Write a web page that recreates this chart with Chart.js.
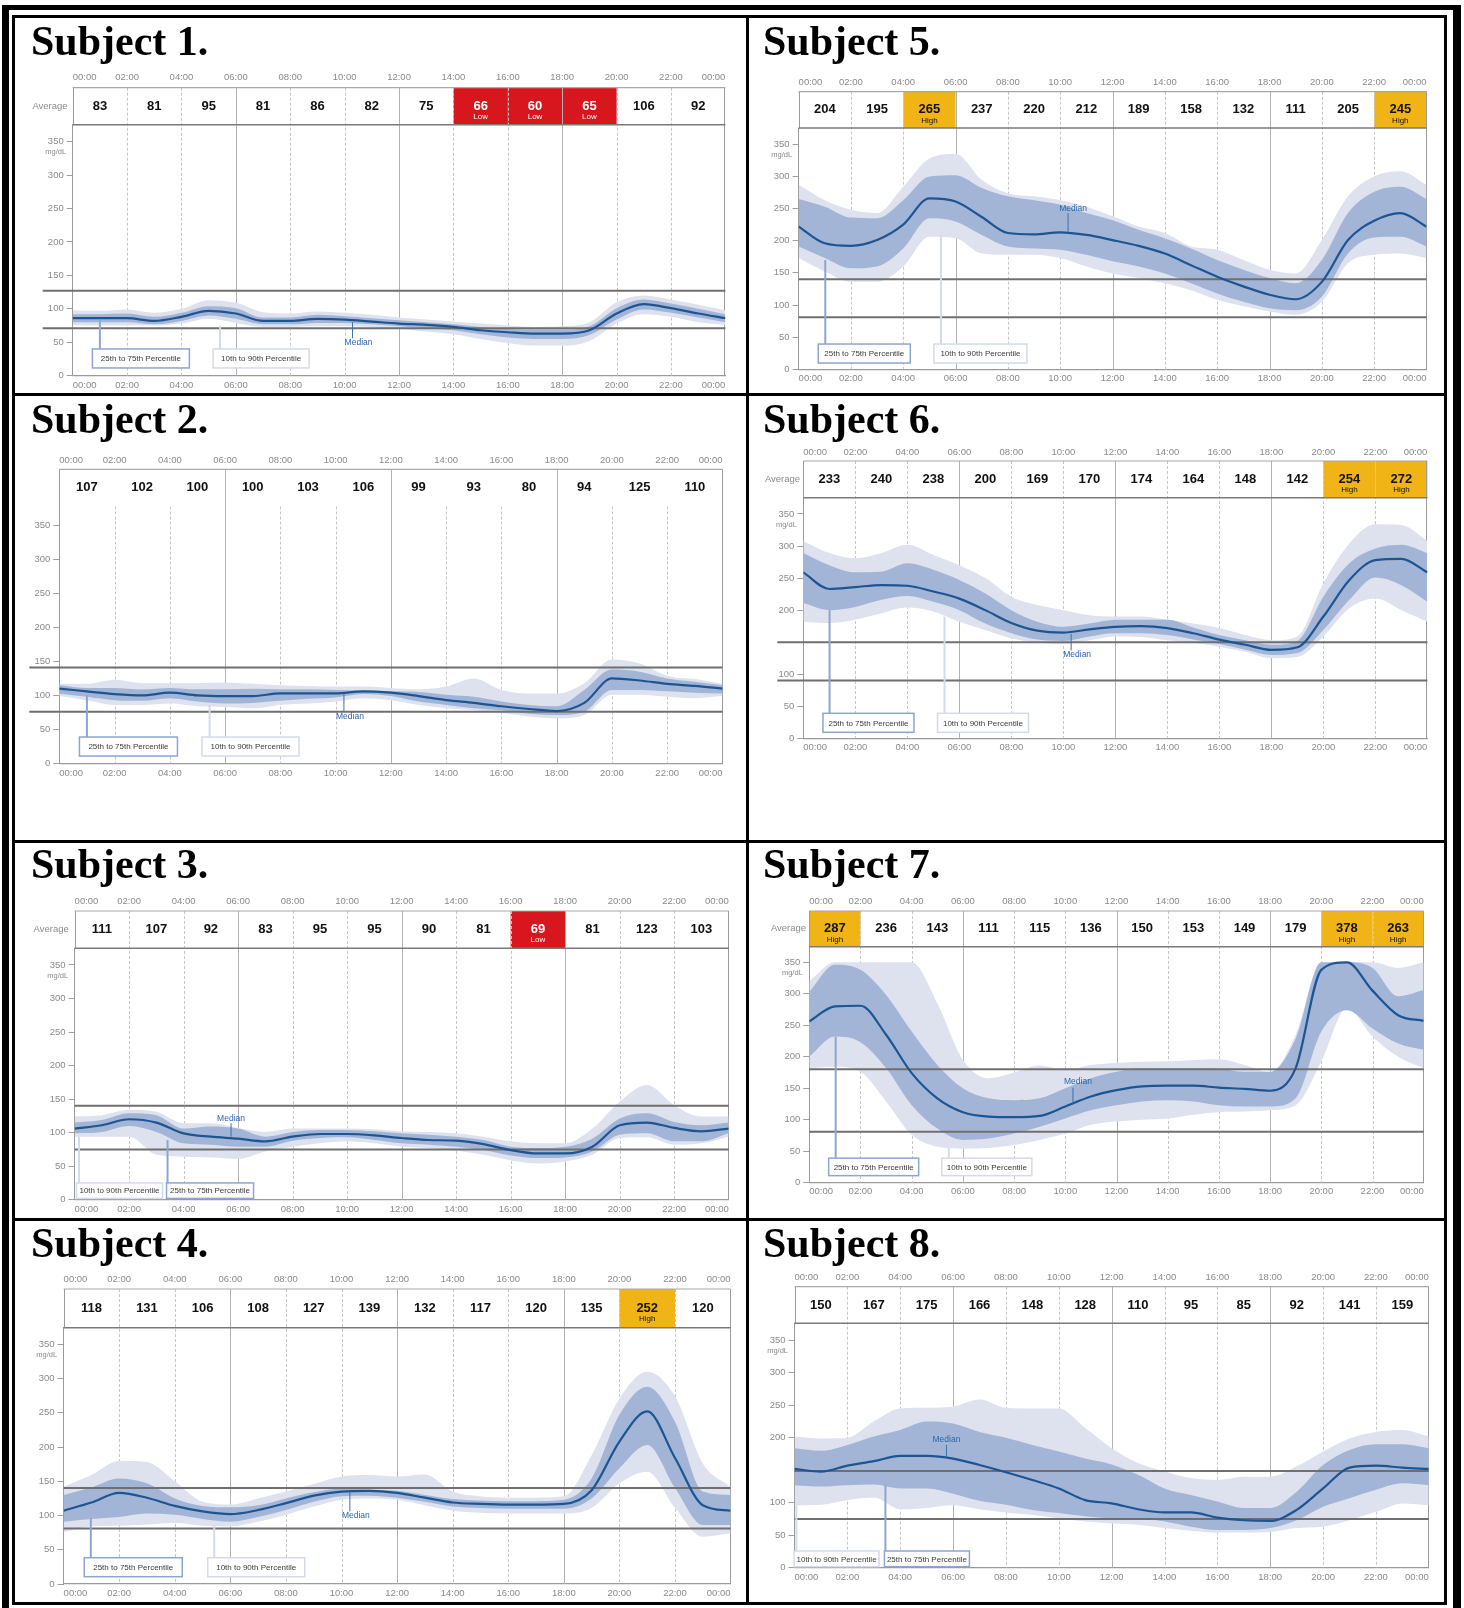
<!DOCTYPE html>
<html>
<head>
<meta charset="utf-8">
<script src="https://cdn.jsdelivr.net/npm/chart.js@4.4.1/dist/chart.umd.min.js"></script>
<style>
  html, body { margin: 0; padding: 0; background: #fff; }
  body { width: 1464px; height: 1608px; position: relative; overflow: hidden; }
  canvas { position: absolute; }
  .blk { position: absolute; background: #000; }
</style>
</head>
<body>
<div id="panels"></div>
<!-- page frame and cell dividers -->
<div class="blk" style="left:2px;top:5px;width:7px;height:1603px"></div>
<div class="blk" style="left:1453px;top:5px;width:8px;height:1603px"></div>
<div class="blk" style="left:2px;top:5px;width:1459px;height:5px"></div>
<div class="blk" style="left:12px;top:15px;width:3px;height:1590px"></div>
<div class="blk" style="left:1444px;top:15px;width:3px;height:1590px"></div>
<div class="blk" style="left:12px;top:15px;width:1435px;height:3px"></div>
<div class="blk" style="left:12px;top:1602px;width:1435px;height:3px"></div>
<div class="blk" style="left:746px;top:15px;width:3px;height:1590px"></div>
<div class="blk" style="left:12px;top:393px;width:1435px;height:3px"></div>
<div class="blk" style="left:12px;top:840px;width:1435px;height:3px"></div>
<div class="blk" style="left:12px;top:1218px;width:1435px;height:3px"></div>

<script>
// ---- shared axes ----
const HOURS = [0,1,2,3,4,5,6,7,8,9,10,11,12,13,14,15,16,17,18,19,20,21,22,23,24];
const TIME_LABELS = ['00:00','02:00','04:00','06:00','08:00','10:00','12:00','14:00','16:00','18:00','20:00','22:00','00:00'];
const YTICKS = [0,50,100,150,200,250,300,350];
const YTICKS_NO150 = [0,50,100,200,250,300,350];

// ---- Subject 1 ----
const s1Avg   = [83,81,95,81,86,82,75,66,60,65,106,92];
const s1Flags = ['','','','','','','','Low','Low','Low','',''];
const s1Ref   = [127,71];
const s1P10 = [76,75,75,75,78,85,79,73,73,74,74,73,70,66,62,55,49,45,45,52,78,92,88,80,76];
const s1P25 = [80,80,80,77,82,90,85,77,77,79,79,77,74,71,68,62,57,55,55,61,84,99,94,87,80];
const s1P50 = [86,86,86,82,88,97,93,82,82,85,84,81,78,76,73,68,65,63,63,68,93,107,101,93,86];
const s1P75 = [92,92,93,88,94,104,101,87,87,91,89,86,83,80,77,73,70,69,69,74,101,114,108,100,92];
const s1P90 = [98,97,99,94,100,113,109,95,93,96,94,91,87,84,81,78,75,73,74,80,110,120,114,106,98];

// ---- Subject 2 ----
const s2Avg   = [107,102,100,100,103,106,99,93,80,94,125,110];
const s2Flags = ['','','','','','','','','','','',''];
const s2Ref   = [141,76];
const s2P10 = [99,93,86,86,88,84,83,81,86,88,91,96,93,86,81,78,74,69,66,71,101,101,98,96,99];
const s2P25 = [103,98,93,92,96,91,88,89,92,95,97,102,99,91,86,81,78,73,71,76,108,108,106,104,103];
const s2P50 = [110,106,102,100,104,100,99,99,103,103,103,106,104,99,93,89,84,80,77,89,125,122,117,114,110];
const s2P75 = [115,111,111,109,111,109,109,110,109,109,108,107,106,105,101,98,91,86,84,108,138,135,125,120,115];
const s2P90 = [117,117,123,118,118,118,119,117,115,114,113,113,111,109,113,125,108,103,103,118,153,147,129,124,117];

// ---- Subject 3 ----
const s3Avg   = [111,107,92,83,95,95,90,81,69,81,123,103];
const s3Flags = ['','','','','','','','','Low','','',''];
const s3Ref   = [140,75];
const s3P10 = [94,94,94,67,64,63,61,72,79,84,87,84,79,77,73,67,59,54,57,67,92,93,82,84,94];
const s3P25 = [99,101,110,101,84,82,79,79,88,92,93,89,84,82,79,74,66,62,63,72,97,99,87,87,99];
const s3P50 = [106,111,120,115,99,94,91,87,94,98,98,96,92,89,88,83,74,69,69,79,111,115,107,102,106];
const s3P75 = [115,119,129,126,106,109,106,94,101,104,104,102,99,97,94,89,79,77,79,91,121,129,116,111,115];
const s3P90 = [124,126,134,131,114,114,107,101,106,106,106,105,102,101,99,94,87,84,84,106,146,171,141,124,124];

// ---- Subject 4 ----
const s4Avg   = [118,131,106,108,127,139,132,117,120,135,252,120];
const s4Flags = ['','','','','','','','','','','High',''];
const s4Ref   = [140,81];
const s4P10 = [76,84,85,87,89,85,84,91,101,113,123,125,123,115,107,104,103,103,103,111,147,164,111,69,74];
const s4P25 = [91,95,98,103,101,95,91,98,108,120,128,129,126,120,113,111,110,110,110,125,169,203,140,86,86];
const s4P50 = [107,119,133,126,114,106,102,108,118,129,135,136,133,126,119,117,116,116,117,137,208,252,184,115,107];
const s4P75 = [130,141,154,147,125,114,112,115,125,134,139,138,136,130,124,122,121,121,123,154,247,288,237,135,130];
const s4P90 = [142,159,180,178,150,120,116,125,135,146,157,159,157,160,135,128,126,126,128,188,271,310,274,176,142];

// ---- Subject 5 ----
const s5Avg   = [204,195,265,237,220,212,189,158,132,111,205,245];
const s5Flags = ['','','High','','','','','','','','','High'];
const s5Ref   = [140,81];
const s5P10 = [173,152,136,136,160,206,204,180,178,178,173,160,149,142,134,123,108,98,90,85,105,165,178,180,173];
const s5P25 = [191,173,157,160,188,235,230,209,191,188,186,178,168,160,149,134,118,105,95,92,113,180,205,206,191];
const s5P50 = [222,196,192,201,225,266,261,237,212,210,213,209,201,192,180,162,144,129,116,109,136,201,231,243,222];
const s5P75 = [265,253,236,235,263,300,302,282,269,263,256,243,232,217,204,188,170,155,142,134,170,243,276,284,265];
const s5P90 = [287,263,248,243,284,328,335,295,274,269,263,253,238,222,212,191,186,170,155,149,201,269,300,308,287];

// ---- Subject 6 ----
const s6Avg   = [233,240,238,200,169,170,174,164,148,142,254,272];
const s6Flags = ['','','','','','','','','','','High','High'];
const s6Ref   = [150,90];
const s6P10 = [182,180,185,195,204,198,182,169,156,149,147,153,159,158,153,149,143,135,125,127,159,203,218,200,182];
const s6P25 = [211,200,205,216,222,213,200,179,164,154,152,159,164,164,161,154,147,138,130,133,169,216,251,239,213];
const s6P50 = [259,233,236,239,238,229,218,200,180,168,165,170,174,175,172,164,154,146,138,142,190,247,278,280,259];
const s6P75 = [289,270,259,260,273,263,247,226,200,182,174,179,185,185,185,173,161,153,146,152,221,273,296,302,289];
const s6P90 = [308,289,281,289,302,286,270,250,221,208,200,192,190,190,185,179,172,161,153,159,242,304,334,333,308];

// ---- Subject 7 ----
const s7Avg   = [287,236,143,111,115,136,150,153,149,179,378,263];
const s7Flags = ['High','','','','','','','','','','High','High'];
const s7Ref   = [180,81];
const s7P10 = [182,184,176,129,76,57,54,55,60,68,78,92,97,100,102,108,112,113,115,123,192,277,232,200,182];
const s7P25 = [200,232,223,182,123,86,68,70,78,89,102,115,123,129,131,129,123,121,121,134,240,274,245,221,211];
const s7P50 = [256,280,281,235,174,134,112,105,104,106,121,137,147,153,154,154,151,149,146,182,338,350,305,266,257];
const s7P75 = [303,346,338,298,240,187,150,134,131,134,150,166,176,182,182,182,181,176,176,229,350,350,341,296,306];
const s7P90 = [320,350,350,350,350,285,195,166,175,186,179,187,190,192,193,195,196,187,176,235,350,350,350,341,350];

// ---- Subject 8 ----
const s8Avg   = [150,167,175,166,148,128,110,95,85,92,141,159];
const s8Flags = ['','','','','','','','','','','',''];
const s8Ref   = [149,75];
const s8P10 = [96,97,104,108,90,92,96,90,85,81,76,71,68,66,61,57,54,54,55,61,63,73,86,99,96];
const s8P25 = [127,125,127,128,122,122,114,103,97,89,84,79,76,76,71,63,58,58,61,73,94,107,120,130,127];
const s8P50 = [152,148,157,164,172,172,168,158,147,135,122,104,99,90,85,85,77,73,72,89,122,154,157,154,152];
const s8P75 = [184,180,189,202,212,225,222,209,200,189,179,168,159,143,122,112,102,92,92,117,158,181,190,190,184];
const s8P90 = [202,199,200,225,245,246,248,259,246,245,245,215,184,161,148,138,135,140,140,156,179,199,209,212,202];

// ---- styling ----
const LIGHT = '#dde2ee';
const DARK = '#a3b5d6';
const MEDIAN = '#1c5592';
const LOW = '#d8161e';
const HIGH = '#f0b416';
const LABEL_GREY = '#8a8a8a';
const SANS = '"Liberation Sans", Arial, sans-serif';

const COLS = [{ left: 15, w: 731 }, { left: 749, w: 695 }];
const ROWS = [{ top: 18, h: 375 }, { top: 396, h: 444 }, { top: 843, h: 375 }, { top: 1221, h: 381 }];

const T25 = '25th to 75th Percentile';
const T10 = '10th to 90th Percentile';

// page geometry of each panel (pixels) and the callout placement (hours / mg/dL)
const PANELS = [
  { key: 's1', title: 'Subject 1.', col: 0, row: 0, avg: s1Avg, flags: s1Flags, ref: s1Ref,
    bands: [s1P10, s1P90, s1P25, s1P75, s1P50], yTicks: YTICKS,
    L: 72.7, R: 725.4, hdrTop: 87.7, T: 124.7, B: 375.7, y350: 141.7, topLab: 77.7, botLab: 385,
    titleX: 31, titleY: 54.5, avgX: 50, refExt: 30, mgdl: true, hdrBottom: true, dashInHeader: true,
    callouts: [{ kind: 'dark', text: T25, hour: 1.0, from: 83, box: 40, dx: -7.5, w: 97, h: 19 },
               { kind: 'light', text: T10, hour: 5.42, from: 75, box: 40, dx: -7, w: 96, h: 19 }],
    median: { hour: 10.29, from: 80, to: 56, text: 49, dx: 6 } },
  { key: 's5', title: 'Subject 5.', col: 1, row: 0, avg: s5Avg, flags: s5Flags, ref: s5Ref,
    bands: [s5P10, s5P90, s5P25, s5P75, s5P50], yTicks: YTICKS,
    L: 798.6, R: 1426.5, hdrTop: 91.7, T: 128, B: 369.3, y350: 144.3, topLab: 82.7, botLab: 378.3,
    titleX: 763, titleY: 55, avgX: null, refExt: 0, mgdl: true, hdrBottom: true, dashInHeader: true,
    callouts: [{ kind: 'dark', text: T25, hour: 1.02, from: 170, box: 39.3, dx: -7, w: 92, h: 19 },
               { kind: 'light', text: T10, hour: 5.44, from: 209, box: 39.3, dx: -7, w: 93, h: 19 }],
    median: { hour: 10.3, from: 243, to: 213, text: 250, dx: 5 } },
  { key: 's2', title: 'Subject 2.', col: 0, row: 1, avg: s2Avg, flags: s2Flags, ref: s2Ref,
    bands: [s2P10, s2P90, s2P25, s2P75, s2P50], yTicks: YTICKS,
    L: 59.3, R: 722.5, hdrTop: 469.3, T: 506.5, B: 763.3, y350: 525.7, topLab: 460.7, botLab: 773.3,
    titleX: 31, titleY: 433.3, avgX: null, refExt: 30, mgdl: false, hdrBottom: false, dashInHeader: false,
    callouts: [{ kind: 'dark', text: T25, hour: 1.0, from: 100, box: 38.7, dx: -7.5, w: 98, h: 19 },
               { kind: 'light', text: T10, hour: 5.44, from: 86, box: 38.7, dx: -7.6, w: 97, h: 19 }],
    median: { hour: 10.3, from: 103, to: 76, text: 68.6, dx: 6 } },
  { key: 's6', title: 'Subject 6.', col: 1, row: 1, avg: s6Avg, flags: s6Flags, ref: s6Ref,
    bands: [s6P10, s6P90, s6P25, s6P75, s6P50], yTicks: YTICKS_NO150,
    L: 803.3, R: 1427.4, hdrTop: 461, T: 497.7, B: 738.3, y350: 514, topLab: 452.7, botLab: 747.3,
    titleX: 763, titleY: 433.3, avgX: 782.5, refExt: 26, mgdl: true, hdrBottom: true, dashInHeader: true,
    callouts: [{ kind: 'dark', text: T25, hour: 1.01, from: 200, box: 39, dx: -6.6, w: 91, h: 19 },
               { kind: 'light', text: T10, hour: 5.43, from: 190, box: 39, dx: -7, w: 91, h: 19 }],
    median: { hour: 10.3, from: 163, to: 137, text: 130, dx: 6 } },
  { key: 's3', title: 'Subject 3.', col: 0, row: 2, avg: s3Avg, flags: s3Flags, ref: s3Ref,
    bands: [s3P10, s3P90, s3P25, s3P75, s3P50], yTicks: YTICKS,
    L: 74.6, R: 728.7, hdrTop: 911, T: 948.3, B: 1199.7, y350: 965, topLab: 901.7, botLab: 1209,
    titleX: 31, titleY: 878.3, avgX: 51.2, refExt: 0, mgdl: true, hdrBottom: true, dashInHeader: true,
    callouts: [{ kind: 'light', text: T10, hour: 0.16, from: 94, box: 25, dx: -2.5, w: 86, h: 15.5 },
               { kind: 'dark', text: T25, hour: 3.41, from: 89, box: 25, dx: -1, w: 87, h: 15.5 }],
    median: { hour: 5.74, from: 114, to: 94, text: 121, dx: 0 } },
  { key: 's7', title: 'Subject 7.', col: 1, row: 2, avg: s7Avg, flags: s7Flags, ref: s7Ref,
    bands: [s7P10, s7P90, s7P25, s7P75, s7P50], yTicks: YTICKS,
    L: 809.3, R: 1423.7, hdrTop: 911, T: 946.7, B: 1182.7, y350: 962.3, topLab: 901.7, botLab: 1191.7,
    titleX: 763, titleY: 878.3, avgX: 788.5, refExt: 0, mgdl: true, hdrBottom: true, dashInHeader: true,
    callouts: [{ kind: 'dark', text: T25, hour: 1.03, from: 232, box: 39, dx: -7, w: 90, h: 17.5 },
               { kind: 'light', text: T10, hour: 5.45, from: 55, box: 39, dx: -7, w: 90, h: 17.5 }],
    median: { hour: 10.3, from: 151, to: 126, text: 160, dx: 5 } },
  { key: 's4', title: 'Subject 4.', col: 0, row: 3, avg: s4Avg, flags: s4Flags, ref: s4Ref,
    bands: [s4P10, s4P90, s4P25, s4P75, s4P50], yTicks: YTICKS,
    L: 63.6, R: 730.6, hdrTop: 1289, T: 1327.7, B: 1584, y350: 1344.3, topLab: 1279.3, botLab: 1593.3,
    titleX: 31, titleY: 1256.7, avgX: null, refExt: 0, mgdl: true, hdrBottom: true, dashInHeader: true,
    callouts: [{ kind: 'dark', text: T25, hour: 0.98, from: 96, box: 38.4, dx: -6.6, w: 98, h: 19 },
               { kind: 'light', text: T10, hour: 5.42, from: 86, box: 38.4, dx: -6.5, w: 97, h: 19 }],
    median: { hour: 10.3, from: 135, to: 106, text: 100, dx: 6 } },
  { key: 's8', title: 'Subject 8.', col: 1, row: 3, avg: s8Avg, flags: s8Flags, ref: s8Ref,
    bands: [s8P10, s8P90, s8P25, s8P75, s8P50], yTicks: YTICKS_NO150,
    L: 794.5, R: 1428.8, hdrTop: 1286.7, T: 1323.3, B: 1567.7, y350: 1340.3, topLab: 1277.7, botLab: 1577.3,
    titleX: 763, titleY: 1256.7, avgX: null, refExt: 0, mgdl: true, hdrBottom: true, dashInHeader: true,
    callouts: [{ kind: 'light', text: T10, hour: 0.07, from: 96, box: 25.7, dx: -2.3, w: 85, h: 15.7 },
               { kind: 'dark', text: T25, hour: 3.44, from: 127, box: 25.7, dx: -1, w: 85, h: 15.7 }],
    median: { hour: 5.75, from: 189, to: 171, text: 197, dx: 0 } }
];

function line(ctx, x0, y0, x1, y1) {
  ctx.beginPath(); ctx.moveTo(x0, y0); ctx.lineTo(x1, y1); ctx.stroke();
}

function makePlugin(p, cell) {
  return {
    id: 'agp_' + p.key,
    beforeDatasetsDraw(chart) {
      const ctx = chart.ctx, xs = chart.scales.x, ca = chart.chartArea;
      const hTop = p.hdrTop - cell.top, hBot = ca.top;
      ctx.save();
      // flagged header cells
      for (let i = 0; i < 12; i++) {
        if (!p.flags[i]) continue;
        const x0 = xs.getPixelForValue(i * 2), x1 = xs.getPixelForValue(i * 2 + 2);
        ctx.fillStyle = p.flags[i] === 'Low' ? LOW : HIGH;
        ctx.fillRect(x0, hTop, x1 - x0, hBot - hTop);
      }
      // two-hour grid lines
      ctx.lineWidth = 1;
      for (let h = 2; h <= 22; h += 2) {
        const px = Math.round(xs.getPixelForValue(h)) + 0.5;
        const solid = h % 6 === 0;
        ctx.strokeStyle = solid ? '#b2b2b2' : '#c6c6c6';
        ctx.setLineDash(solid ? [] : [3, 2]);
        const y0 = (!solid && !p.dashInHeader) ? hBot : hTop;
        line(ctx, px, y0, px, ca.bottom);
      }
      ctx.setLineDash([]);
      // frame of header + plot
      ctx.strokeStyle = '#9a9a9a';
      line(ctx, Math.round(ca.left) + 0.5, hTop, Math.round(ca.left) + 0.5, hBot);
      line(ctx, Math.round(ca.right) - 0.5, hTop, Math.round(ca.right) - 0.5, ca.bottom);
      ctx.strokeStyle = '#a8a8a8'; ctx.lineWidth = 1.2;
      line(ctx, ca.left, hTop, ca.right, hTop);
      if (p.hdrBottom) {
        ctx.strokeStyle = '#7a7a7a'; ctx.lineWidth = 1.6;
        line(ctx, ca.left, hBot, ca.right, hBot);
      }
      // header values
      const mid = (hTop + hBot) / 2;
      ctx.textAlign = 'center'; ctx.textBaseline = 'middle';
      for (let i = 0; i < 12; i++) {
        const cx = (xs.getPixelForValue(i * 2) + xs.getPixelForValue(i * 2 + 2)) / 2;
        const f = p.flags[i];
        ctx.fillStyle = f === 'Low' ? '#ffffff' : '#111111';
        ctx.font = 'bold 13px ' + SANS;
        ctx.fillText(String(p.avg[i]), cx, mid);
        if (f) {
          ctx.font = '8px ' + SANS;
          ctx.fillText(f, cx, mid + 10.5);
        }
      }
      if (p.avgX !== null) {
        ctx.fillStyle = LABEL_GREY; ctx.font = '9.5px ' + SANS;
        ctx.fillText('Average', p.avgX - cell.left, mid);
      }
      if (p.mgdl) {
        ctx.fillStyle = LABEL_GREY; ctx.font = '7.5px ' + SANS; ctx.textAlign = 'right';
        ctx.fillText('mg/dL', ca.left - 6.5, p.y350 - cell.top + 10.5);
      }
      ctx.restore();
    },
    afterDatasetDraw(chart, args) {
      if (args.index !== 3) return;
      // target-range lines sit over the bands, under the median
      const ctx = chart.ctx, ys = chart.scales.y, ca = chart.chartArea;
      ctx.save();
      ctx.strokeStyle = '#6f6f6f'; ctx.lineWidth = 2;
      p.ref.forEach(v => {
        const py = ys.getPixelForValue(v);
        line(ctx, ca.left - p.refExt, py, ca.right, py);
      });
      ctx.restore();
    },
    afterDraw(chart) {
      const ctx = chart.ctx, xs = chart.scales.x, ys = chart.scales.y;
      ctx.save();
      // percentile callouts
      p.callouts.forEach(c => {
        const col = c.kind === 'dark' ? '#8ea5cf' : '#d3dae9';
        const lx = xs.getPixelForValue(c.hour);
        const top = ys.getPixelForValue(c.box);
        ctx.strokeStyle = col; ctx.lineWidth = 2;
        line(ctx, lx, ys.getPixelForValue(c.from), lx, top);
        const bx = lx + c.dx;
        ctx.fillStyle = '#fff';
        ctx.fillRect(bx, top, c.w, c.h);
        ctx.lineWidth = 1.5;
        ctx.strokeRect(bx, top, c.w, c.h);
        ctx.fillStyle = '#3a3a3a'; ctx.font = '8px ' + SANS;
        ctx.textAlign = 'center'; ctx.textBaseline = 'middle';
        ctx.fillText(c.text, bx + c.w / 2, top + c.h / 2 + 0.5);
      });
      // median callout
      const m = p.median, mx = xs.getPixelForValue(m.hour);
      ctx.strokeStyle = '#3a70aa'; ctx.lineWidth = 1;
      line(ctx, mx, ys.getPixelForValue(m.from), mx, ys.getPixelForValue(m.to));
      ctx.fillStyle = '#2a66a8'; ctx.font = '8.5px ' + SANS;
      ctx.textAlign = 'center'; ctx.textBaseline = 'middle';
      ctx.fillText('Median', mx + m.dx, ys.getPixelForValue(m.text));
      // panel title
      ctx.fillStyle = '#000'; ctx.font = 'bold 42px "Liberation Serif", "Times New Roman", serif';
      ctx.textAlign = 'left'; ctx.textBaseline = 'alphabetic';
      ctx.fillText(p.title, p.titleX - cell.left, p.titleY - cell.top);
      ctx.restore();
    }
  };
}

function pts(arr) { return HOURS.map((h, i) => ({ x: h, y: arr[i] })); }

// fixed axis boxes; label half-width padding is dropped so the plot spans exactly L..R
function fixPad(s) { s.paddingLeft = 0; s.paddingRight = 0; s.paddingTop = 0; s.paddingBottom = 0; }

function build(p) {
  const cell = { left: COLS[p.col].left, top: ROWS[p.row].top, w: COLS[p.col].w, h: ROWS[p.row].h };
  const cv = document.createElement('canvas');
  cv.width = cell.w; cv.height = cell.h;
  cv.style.left = cell.left + 'px'; cv.style.top = cell.top + 'px';
  cv.style.width = cell.w + 'px'; cv.style.height = cell.h + 'px';
  document.getElementById('panels').appendChild(cv);

  const yMax = 350 * (p.B - p.T) / (p.B - p.y350);
  const fs = 9.5;
  const tickFont = { family: SANS, size: fs };
  const [p10, p90, p25, p75, p50] = p.bands;
  const band = (arr, color, fill, order) => ({
    data: pts(arr), borderWidth: 0, borderColor: color, backgroundColor: color,
    fill: fill, pointRadius: 0, order: order, cubicInterpolationMode: 'monotone'
  });
  const timeTicks = s => { s.ticks = TIME_LABELS.map((t, i) => ({ value: i * 2 })); };

  new Chart(cv, {
    type: 'line',
    data: {
      datasets: [
        band(p10, LIGHT, false, 4),
        band(p90, LIGHT, '-1', 3),
        band(p25, DARK, false, 2),
        band(p75, DARK, '-1', 1),
        { data: pts(p50), borderColor: MEDIAN, borderWidth: 2.2, fill: false, pointRadius: 0,
          order: 0, cubicInterpolationMode: 'monotone' }
      ]
    },
    options: {
      responsive: false, animation: false, devicePixelRatio: 1, events: [],
      layout: { autoPadding: false, padding: { left: 0, top: 0, bottom: 0, right: cell.left + cell.w - p.R } },
      plugins: { legend: { display: false }, tooltip: { enabled: false } },
      scales: {
        x: {
          type: 'linear', position: 'bottom', min: 0, max: 24,
          afterBuildTicks: timeTicks,
          afterFit: s => { s.height = cell.top + cell.h - p.B; fixPad(s); },
          ticks: { autoSkip: false, maxRotation: 0, align: 'inner', color: LABEL_GREY, font: tickFont,
                   padding: p.botLab - p.B - fs * 0.6, callback: v => TIME_LABELS[Math.round(v / 2)] },
          grid: { display: false, drawTicks: false },
          border: { display: true, color: '#9a9a9a', width: 1.2 }
        },
        xTop: {
          type: 'linear', position: 'top', axis: 'x', min: 0, max: 24,
          afterBuildTicks: timeTicks,
          afterFit: s => { s.height = p.T - cell.top; fixPad(s); },
          ticks: { autoSkip: false, maxRotation: 0, align: 'inner', color: LABEL_GREY, font: tickFont,
                   padding: p.T - p.topLab - fs * 0.6, callback: v => TIME_LABELS[Math.round(v / 2)] },
          grid: { display: false, drawTicks: false },
          border: { display: false }
        },
        y: {
          type: 'linear', position: 'left', min: 0, max: yMax,
          afterBuildTicks: s => { s.ticks = p.yTicks.map(v => ({ value: v })); },
          afterFit: s => { s.width = p.L - cell.left; fixPad(s); },
          ticks: { color: LABEL_GREY, font: tickFont, padding: 3 },
          grid: { display: true, drawOnChartArea: false, drawTicks: true, tickLength: 6, color: '#a0a0a0' },
          border: { display: true, color: '#9a9a9a', width: 1 }
        }
      }
    },
    plugins: [makePlugin(p, cell)]
  });
}

PANELS.forEach(build);
</script>
</body>
</html>
